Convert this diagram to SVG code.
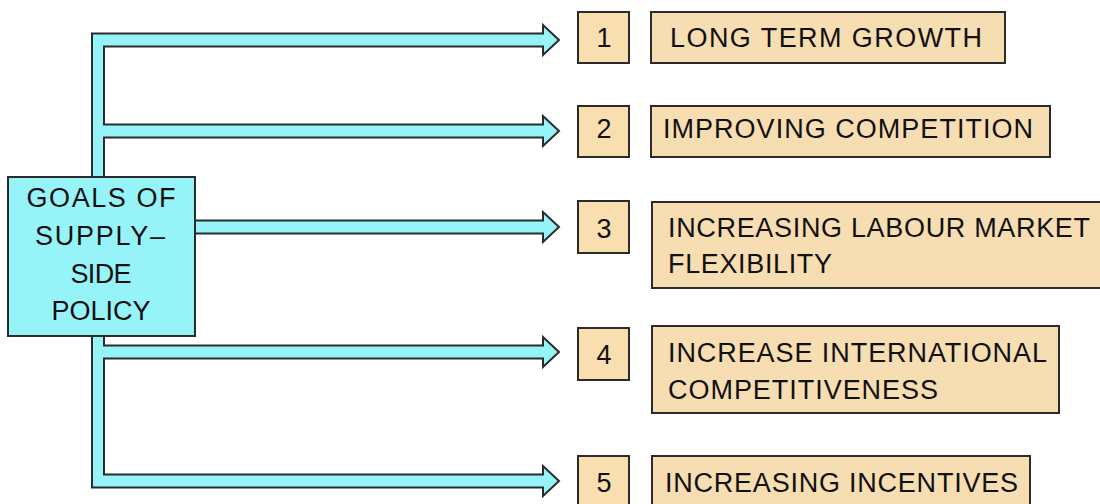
<svg xmlns="http://www.w3.org/2000/svg" width="1100" height="504" viewBox="0 0 1100 504">
<style>
.conn{fill:#96F4F8;stroke:#2b2b2b;stroke-width:2;stroke-linejoin:miter}
.goal{fill:#96F4F8;stroke:#2b2b2b;stroke-width:2}
.num{fill:#F9DFB0;stroke:#2b2b2b;stroke-width:2}
.lbl{fill:#F7DDB2;stroke:#2b2b2b;stroke-width:2}
text{font-family:"Liberation Sans",Arial,sans-serif;font-size:27px;fill:#111}
.c{text-anchor:middle}
</style>
<rect width="1100" height="504" fill="#ffffff"/>
<g id="connectors">
<path class="conn" d="M92,33.5 L543,33.5 L543,25 L559,40 L543,55 L543,46.5 L104,46.5 L104,124.5 L543,124.5 L543,116 L559,131 L543,146 L543,137.5 L104,137.5 L104,345.5 L543,345.5 L543,337 L559,352 L543,367 L543,358.5 L104,358.5 L104,474.5 L543,474.5 L543,466 L559,481 L543,496 L543,487.5 L92,487.5 Z"/>
<path class="conn" d="M195,220.5 L543,220.5 L543,212 L559,227 L543,242 L543,233.5 L195,233.5 Z"/>
</g>
<g id="goals">
<rect class="goal" x="8" y="177" width="187" height="159"/>
<text class="c" x="101" y="207" textLength="149" lengthAdjust="spacing">GOALS OF</text>
<text class="c" x="100" y="245" textLength="130" lengthAdjust="spacing">SUPPLY–</text>
<text class="c" x="101" y="283" textLength="61" lengthAdjust="spacing">SIDE</text>
<text class="c" x="101" y="320" textLength="99" lengthAdjust="spacing">POLICY</text>
</g>
<g id="goal1">
<rect class="num" x="578" y="12" width="51" height="51"/>
<text class="c" x="604" y="47">1</text>
<rect class="lbl" x="651" y="12" width="354" height="51"/>
<text x="670" y="47" textLength="312" lengthAdjust="spacing">LONG TERM GROWTH</text>
</g>
<g id="goal2">
<rect class="num" x="578" y="106" width="51" height="51"/>
<text class="c" x="604" y="138">2</text>
<rect class="lbl" x="651" y="106" width="399" height="51"/>
<text x="663" y="138" textLength="370" lengthAdjust="spacing">IMPROVING COMPETITION</text>
</g>
<g id="goal3">
<rect class="num" x="578" y="201" width="51" height="52"/>
<text class="c" x="604" y="238">3</text>
<rect class="lbl" x="652" y="202" width="452" height="86"/>
<text x="668" y="237" textLength="422" lengthAdjust="spacing">INCREASING LABOUR MARKET</text>
<text x="668" y="273" textLength="164" lengthAdjust="spacing">FLEXIBILITY</text>
</g>
<g id="goal4">
<rect class="num" x="578" y="328" width="51" height="52"/>
<text class="c" x="604" y="364">4</text>
<rect class="lbl" x="652" y="326" width="407" height="87"/>
<text x="668" y="362" textLength="379" lengthAdjust="spacing">INCREASE INTERNATIONAL</text>
<text x="668" y="399" textLength="270" lengthAdjust="spacing">COMPETITIVENESS</text>
</g>
<g id="goal5">
<rect class="num" x="578" y="456" width="51" height="52"/>
<text class="c" x="604" y="492">5</text>
<rect class="lbl" x="652" y="456" width="378" height="52"/>
<text x="665" y="492" textLength="353" lengthAdjust="spacing">INCREASING INCENTIVES</text>
</g>
</svg>
